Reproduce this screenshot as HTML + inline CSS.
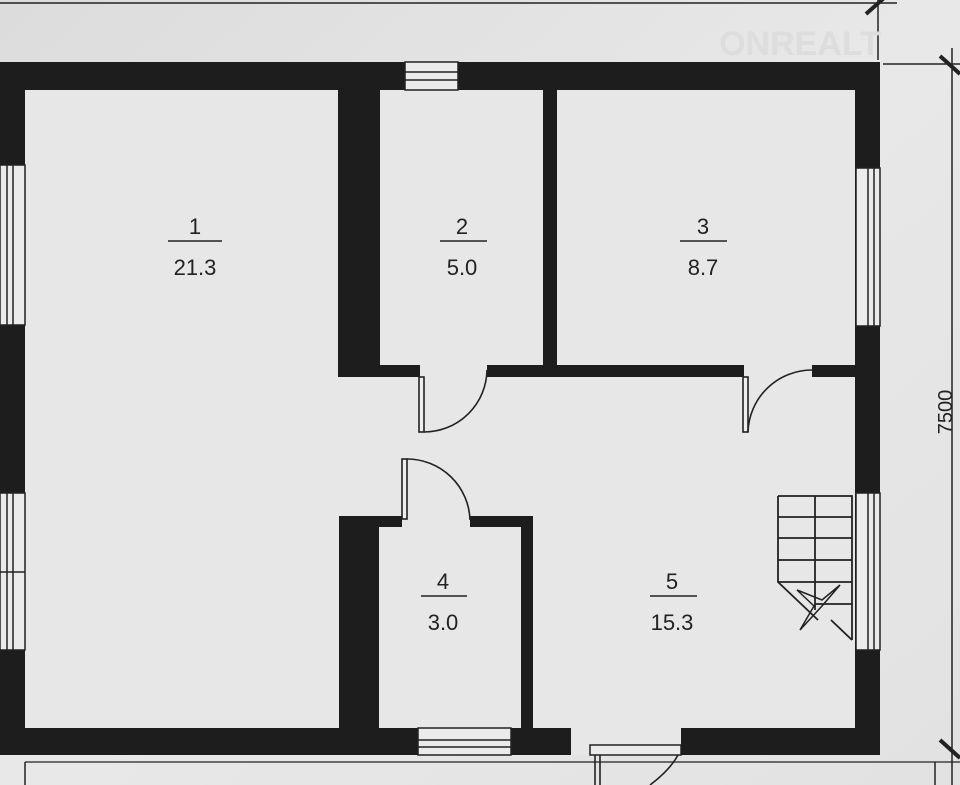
<!DOCTYPE html>
<html><head><style>
html,body{margin:0;padding:0;background:#e4e4e4;}
svg{display:block;}
text{font-family:"Liberation Sans",sans-serif;fill:#222;}
</style></head><body>
<svg width="960" height="785" viewBox="0 0 960 785" xmlns="http://www.w3.org/2000/svg">
<defs>
<linearGradient id="bg" x1="0" y1="0" x2="1" y2="1">
<stop offset="0" stop-color="#dcdcdc"/><stop offset="0.5" stop-color="#e8e8e8"/><stop offset="1" stop-color="#e2e2e2"/>
</linearGradient>
</defs>
<rect width="960" height="785" fill="url(#bg)"/>
<rect x="25" y="90" width="830" height="640" fill="#e7e7e7"/>
<g fill="#1d1d1d">
<rect x="0" y="62" width="880" height="28"/>
<rect x="0" y="62" width="25" height="693"/>
<rect x="855" y="62" width="25" height="693"/>
<rect x="0" y="728" width="880" height="27"/>
<rect x="338" y="90" width="42" height="287"/>
<rect x="338" y="365" width="82" height="12"/>
<rect x="543" y="90" width="14" height="287"/>
<rect x="487" y="365" width="257" height="12"/>
<rect x="812" y="365" width="43" height="12"/>
<rect x="339" y="516" width="40" height="214"/>
<rect x="339" y="516" width="63" height="11"/>
<rect x="470" y="516" width="63" height="11"/>
<rect x="521" y="516" width="12" height="214"/>
</g>
<g fill="#ebebeb" stroke="#222" stroke-width="1.5">
<rect x="405" y="62" width="53" height="28"/>
<line x1="405" y1="72" x2="458" y2="72"/><line x1="405" y1="80" x2="458" y2="80"/>
<rect x="856" y="168" width="24" height="158"/>
<line x1="868" y1="168" x2="868" y2="326"/><line x1="874" y1="168" x2="874" y2="326"/>
<rect x="856" y="493" width="24" height="157"/>
<line x1="868" y1="493" x2="868" y2="650"/><line x1="874" y1="493" x2="874" y2="650"/>
<rect x="0" y="165" width="25" height="160"/>
<line x1="7" y1="165" x2="7" y2="325"/><line x1="13" y1="165" x2="13" y2="325"/>
<rect x="0" y="493" width="25" height="157"/>
<line x1="7" y1="493" x2="7" y2="650"/><line x1="13" y1="493" x2="13" y2="650"/>
<line x1="0" y1="572" x2="25" y2="572"/>
<rect x="418" y="728" width="93" height="27"/>
<line x1="418" y1="747" x2="511" y2="747"/><line x1="418" y1="740" x2="511" y2="740"/>
<rect x="571" y="728" width="110" height="27" fill="#e7e7e7" stroke="none"/>
<rect x="590" y="745" width="91" height="10"/>
</g>
<g fill="none" stroke="#222" stroke-width="1.6">
<rect x="419" y="377" width="5" height="55" fill="#eee"/>
<path d="M424 432 A63 63 0 0 0 487 370"/>
<rect x="743" y="377" width="5" height="55" fill="#eee"/>
<path d="M748 432 A64 64 0 0 1 812 370"/>
<rect x="402" y="459" width="5" height="60" fill="#eee"/>
<path d="M407 459 A63 63 0 0 1 470 520"/>
<line x1="595" y1="755" x2="595" y2="785"/><line x1="600" y1="755" x2="600" y2="785"/>
<path d="M650 785 Q670 770 678 755"/>
</g>
<g fill="none" stroke="#222" stroke-width="1.8">
<path d="M778 496 H852 V640 M778 496 V582 L818 620 M815 496 V610 M778 517 H852 M778 538 H852 M778 560 H852 M778 582 H852 M815 604 H852 M831 620 L852 640"/>
<path d="M797 590 L822 600 L840 585 L822 606 L800 630 L814 606 Z" stroke-width="1.5"/>
</g>
<g stroke="#222" stroke-width="1.5" fill="none">
<line x1="0" y1="3" x2="897" y2="3"/>
<line x1="878" y1="0" x2="878" y2="60"/>
<line x1="866" y1="14" x2="884" y2="-2" stroke-width="4"/>
<line x1="883" y1="64" x2="960" y2="64"/>
<line x1="952" y1="48" x2="952" y2="785"/>
<line x1="940" y1="56" x2="960" y2="74" stroke-width="4"/>
<line x1="940" y1="740" x2="960" y2="758" stroke-width="4"/>
<line x1="25" y1="762" x2="960" y2="762" stroke-width="1.2"/>
<line x1="25" y1="762" x2="25" y2="785"/>
<line x1="935" y1="762" x2="935" y2="785"/>
</g>
<text x="945" y="412" font-size="20" text-anchor="middle" transform="rotate(-90 945 412)" dy="7">7500</text>
<g font-size="22" text-anchor="middle" stroke="none">
<text x="195" y="234">1</text><text x="195" y="275">21.3</text>
<text x="462" y="234">2</text><text x="462" y="275">5.0</text>
<text x="703" y="234">3</text><text x="703" y="275">8.7</text>
<text x="443" y="589">4</text><text x="443" y="630">3.0</text>
<text x="672" y="589">5</text><text x="672" y="630">15.3</text>
</g>
<g stroke="#222" stroke-width="1.5">
<line x1="168" y1="241" x2="222" y2="241"/>
<line x1="440" y1="241" x2="487" y2="241"/>
<line x1="680" y1="241" x2="727" y2="241"/>
<line x1="421" y1="596" x2="467" y2="596"/>
<line x1="650" y1="596" x2="697" y2="596"/>
</g>
<text x="800" y="55" font-size="34" font-weight="bold" text-anchor="middle" style="fill:#dddddd">ONREALT</text>
</svg>
</body></html>
